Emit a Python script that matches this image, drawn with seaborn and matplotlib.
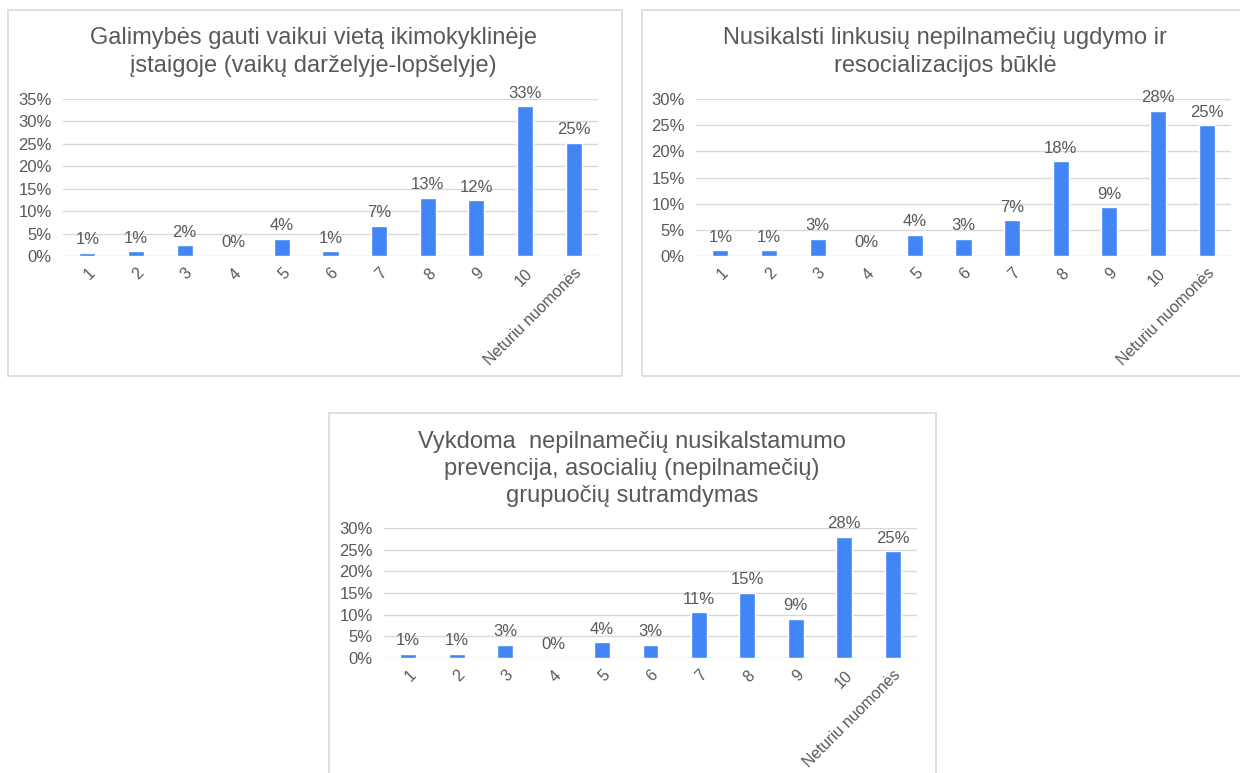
import numpy as np
import pandas as pd
import matplotlib
matplotlib.use("Agg")
import matplotlib.pyplot as plt
import seaborn as sns
from matplotlib.patches import Rectangle
from matplotlib.ticker import PercentFormatter

# ==========================
# DATA
# ==========================

categories = ["1", "2", "3", "4", "5", "6", "7", "8", "9", "10", "Neturiu nuomonės"]

title_1 = "Galimybės gauti vaikui vietą ikimokyklinėje\nįstaigoje (vaikų darželyje-lopšelyje)"
values_1 = [0.007, 0.011, 0.024, 0.0, 0.038, 0.011, 0.067, 0.130, 0.124, 0.334, 0.252]

title_2 = "Nusikalsti linkusių nepilnamečių ugdymo ir\nresocializacijos būklė"
values_2 = [0.011, 0.011, 0.033, 0.0, 0.041, 0.033, 0.068, 0.181, 0.093, 0.278, 0.250]

title_3 = "Vykdoma  nepilnamečių nusikalstamumo\nprevencija, asocialių (nepilnamečių)\ngrupuočių sutramdymas"
values_3 = [0.010, 0.010, 0.031, 0.0, 0.036, 0.031, 0.106, 0.150, 0.091, 0.280, 0.246]

ymax = [0.35, 0.30, 0.30]

# ==========================
# STYLE
# ==========================

sns.set_theme(style="white")
plt.rcParams["font.family"] = ["Liberation Sans", "DejaVu Sans"]

BLUE = "#4285F4"
TEXT = "#595959"
GRID = "#d9d9d9"

W, H = 1240, 773
fig = plt.figure(figsize=(W / 100, H / 100), dpi=100)


def fx(px):
    return px / W


def fy(py):
    return 1 - py / H


# panel boxes (pixel coords: left, top, right, bottom)
boxes = [(8, 10, 622, 376), (642, 10, 1250, 376), (329, 413, 936, 790)]
for l, t, r, b in boxes:
    fig.patches.append(
        Rectangle((fx(l), fy(b)), fx(r - l), (b - t) / H,
                  transform=fig.transFigure, fill=False,
                  edgecolor=GRID, linewidth=1.2, zorder=0)
    )

# axes areas (pixel coords: left, zero line, right, top gridline)
areas = [(63, 256, 598, 99), (696, 256, 1231, 99), (384, 658, 917, 528)]
title_pos = [(313, 52), (945, 52), (632, 469)]

panels = [
    (title_1, values_1),
    (title_2, values_2),
    (title_3, values_3),
]

for i, (title, vals) in enumerate(panels):
    l, b, r, t = areas[i]
    ax = fig.add_axes([fx(l), fy(b), fx(r - l), (b - t) / H])

    df = pd.DataFrame({"cat": categories, "val": vals})

    sns.barplot(
        data=df, x="cat", y="val", order=categories,
        color=BLUE, width=0.33, saturation=1, ax=ax, zorder=3
    )

    labels = [f"{v:.0%}" for v in vals]
    ax.bar_label(ax.containers[0], labels=labels, padding=4,
                 fontsize=12, color=TEXT)

    ax.set_ylim(0, ymax[i])
    ax.set_xlim(-0.5, len(categories) - 0.5)
    ax.set_yticks(np.arange(0, ymax[i] + 0.001, 0.05))
    ax.yaxis.set_major_formatter(PercentFormatter(1.0, decimals=0))
    ax.grid(axis="y", color=GRID, linewidth=1)
    ax.set_axisbelow(True)
    for s in ax.spines.values():
        s.set_visible(False)

    ax.tick_params(axis="y", labelsize=12, labelcolor=TEXT, length=0, pad=8)
    ax.tick_params(axis="x", labelsize=11.5, labelcolor=TEXT, length=0, pad=7)
    plt.setp(ax.get_xticklabels(), rotation=45, ha="right",
             rotation_mode="anchor")

    ax.set_xlabel("")
    ax.set_ylabel("")
    ax.patch.set_alpha(0)

    tx, ty = title_pos[i]
    fig.text(fx(tx), fy(ty), title, ha="center", va="center",
             fontsize=17, color=TEXT, linespacing=1.32)

fig.savefig("out.png", dpi=100, facecolor="white")
